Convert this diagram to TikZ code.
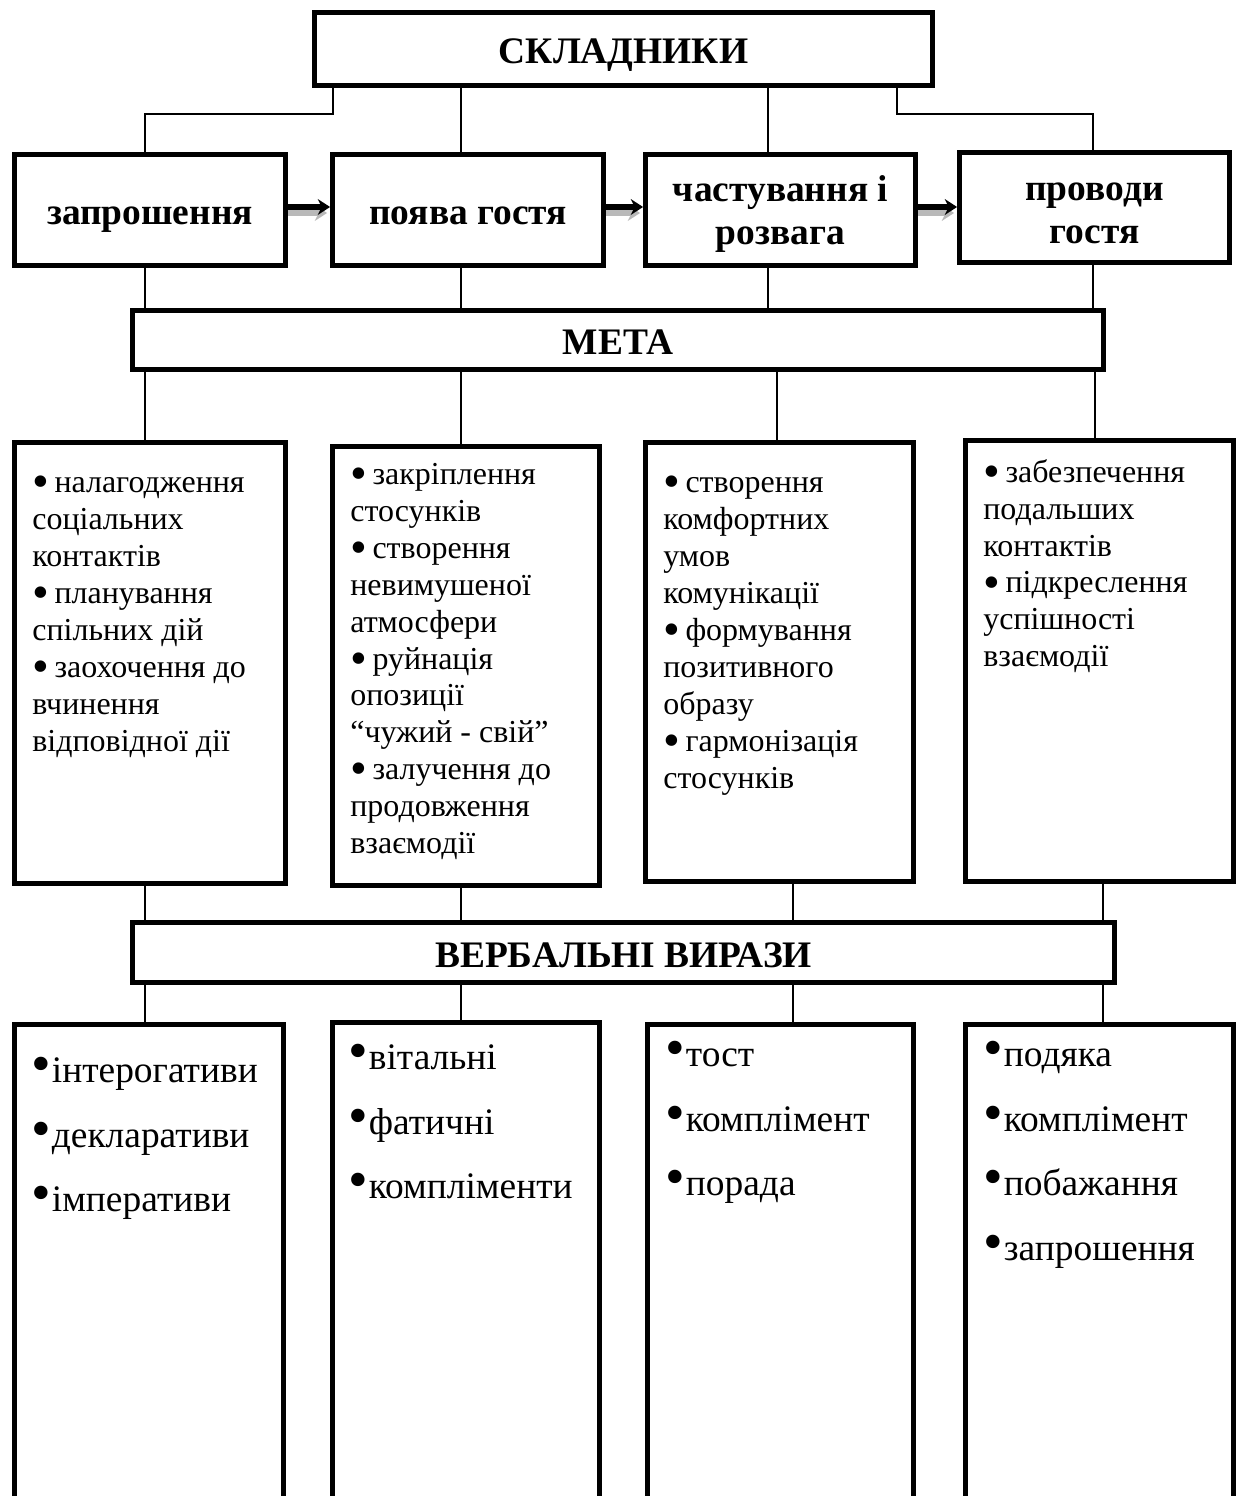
\documentclass[tikz,border=0pt]{standalone}
\usepackage{fontspec}
\setmainfont{Liberation Serif}
\usepackage{graphicx}
\usepackage{tikz}
\usetikzlibrary{positioning}
\usetikzlibrary{arrows.meta}

\newcommand{\aimbul}{\raisebox{-0.16em}{\scalebox{1.5}{•}}\kern-1.5pt}
\newcommand{\verbbul}{\scalebox{1.5}{•}\kern0.5pt}

\tikzset{
	stagebox/.style={rectangle, draw=black, line width=2.8pt, fill=white},
	link/.style={line width=0.9pt},
	flow/.style={line width=3pt, -{Stealth[length=7pt,width=9pt]}},
	flowshadow/.style={line width=3pt, draw=gray!55, -{Stealth[length=7pt,width=9pt]}},
	headtext/.style={font=\fontsize{21.3}{24.6}\selectfont\bfseries, align=center, text height=19.4pt, text depth=2.8pt},
	headtwo/.style={font=\fontsize{21.3}{24.6}\selectfont\bfseries, align=center},
	aimtext/.style={font=\fontsize{18.2}{21}\selectfont, align=left, anchor=north west, inner sep=0pt},
	verbtext/.style={font=\fontsize{21.3}{36.8}\selectfont, align=left, anchor=north west, inner sep=0pt}
}

\begin{document}
\begin{tikzpicture}[x=0.02cm, y=-0.02cm]

		\useasboundingbox (0,0) rectangle (1243,1496);
		\clip (0,0) rectangle (1243,1496);

		\node[stagebox, headtext, minimum width=12.36cm, minimum height=1.46cm](sklBox) at (623.5,49){СКЛАДНИКИ};

		\node[stagebox, headtext, minimum width=5.42cm, minimum height=2.22cm](invite) at (150,210){запрошення};
		\node[stagebox, headtext, minimum width=5.42cm, minimum height=2.22cm](arrival) at (468,210){поява гостя};
		\node[stagebox, headtwo, text depth=0pt, minimum width=5.4cm, minimum height=2.22cm](treat) at (780.5,210){частування і\\розвага};
		\node[stagebox, headtwo, text height=41.4pt, minimum width=5.4cm, minimum height=2.2cm](farewell) at (1094.5,207.5){проводи\\гостя};

		\node[stagebox, headtext, minimum width=19.42cm, minimum height=1.18cm](metaBox) at (618,340){МЕТА};

		\node[stagebox, minimum width=5.42cm, minimum height=8.82cm](goalOne) at (150,663){};
		\node[stagebox, minimum width=5.34cm, minimum height=8.78cm](goalTwo) at (466,666){};
		\node[stagebox, minimum width=5.36cm, minimum height=8.78cm](goalThree) at (779.5,662){};
		\node[stagebox, minimum width=5.36cm, minimum height=8.82cm](goalFour) at (1099.5,661){};

		\node[aimtext](goalOneText) at (32,476){\aimbul{} налагодження\\соціальних\\контактів\\\aimbul{} планування\\спільних дій\\\aimbul{} заохочення до\\вчинення\\відповідної дії};
		\node[aimtext](goalTwoText) at (350,463){\aimbul{} закріплення\\стосунків\\\aimbul{} створення\\невимушеної\\атмосфери\\\aimbul{} руйнація\\опозиції\\“чужий - свій”\\\aimbul{} залучення до\\продовження\\взаємодії};
		\node[aimtext](goalThreeText) at (663,476){\aimbul{} створення\\комфортних\\умов\\комунікації\\\aimbul{} формування\\позитивного\\образу\\\aimbul{} гармонізація\\стосунків};
		\node[aimtext](goalFourText) at (983,459){\aimbul{} забезпечення\\подальших\\контактів\\\aimbul{} підкреслення\\успішності\\взаємодії};

		\node[stagebox, headtext, minimum width=19.64cm, minimum height=1.2cm](verbBox) at (623.5,952.5){ВЕРБАЛЬНІ ВИРАЗИ};

		\node[stagebox, anchor=north, minimum width=5.38cm, minimum height=12cm](phraseOne) at (149,1022){};
		\node[stagebox, anchor=north, minimum width=5.34cm, minimum height=12cm](phraseTwo) at (466,1020){};
		\node[stagebox, anchor=north, minimum width=5.32cm, minimum height=12cm](phraseThree) at (780.5,1022){};
		\node[stagebox, anchor=north, minimum width=5.36cm, minimum height=12cm](phraseFour) at (1099.5,1022){};

		\node[verbtext](phraseOneText) at (31,1057){\verbbul інтерогативи\\\verbbul декларативи\\\verbbul імперативи};
		\node[verbtext](phraseTwoText) at (348,1044){\verbbul вітальні\\\verbbul фатичні\\\verbbul компліменти};
		\node[verbtext](phraseThreeText) at (665,1041){\verbbul тост\\\verbbul комплімент\\\verbbul порада};
		\node[verbtext](phraseFourText) at (983,1041){\verbbul подяка\\\verbbul комплімент\\\verbbul побажання\\\verbbul запрошення};

		\draw [link] ([xshift=0.42cm]sklBox.south west) -- ++(0,26) -| ([xshift=-0.1cm]invite.north);
		\draw [link] ([xshift=-0.14cm]arrival.north |- sklBox.south) -- ([xshift=-0.14cm]arrival.north);
		\draw [link] ([xshift=-0.25cm]treat.north |- sklBox.south) -- ([xshift=-0.25cm]treat.north);
		\draw [link] ([xshift=-0.76cm]sklBox.south east) -- ++(0,26) -| ([xshift=-0.03cm]farewell.north);

		\draw [flowshadow] ([yshift=-0.06cm]invite.east) -- ([xshift=-0.06cm,yshift=-0.06cm]arrival.west);
		\draw [flow] ([yshift=0.06cm]invite.east) -- ([yshift=0.06cm]arrival.west);
		\draw [flowshadow] ([yshift=-0.06cm]arrival.east) -- ([xshift=-0.06cm,yshift=-0.06cm]treat.west);
		\draw [flow] ([yshift=0.06cm]arrival.east) -- ([yshift=0.06cm]treat.west);
		\draw [flowshadow] ([yshift=-0.06cm]treat.east) -- ([xshift=-0.06cm,yshift=-0.06cm]treat.east -| farewell.west);
		\draw [flow] ([yshift=0.06cm]treat.east) -- ([yshift=0.06cm]treat.east -| farewell.west);

		\draw [link] ([xshift=-0.1cm]invite.south) -- ([xshift=-0.1cm]invite.south |- metaBox.north);
		\draw [link] ([xshift=-0.14cm]arrival.south) -- ([xshift=-0.14cm]arrival.south |- metaBox.north);
		\draw [link] ([xshift=-0.25cm]treat.south) -- ([xshift=-0.25cm]treat.south |- metaBox.north);
		\draw [link] ([xshift=-0.03cm]farewell.south) -- ([xshift=-0.03cm]farewell.south |- metaBox.north);

		\draw [link] ([xshift=-0.1cm]goalOne.north |- metaBox.south) -- ([xshift=-0.1cm]goalOne.north);
		\draw [link] ([xshift=-0.1cm]goalTwo.north |- metaBox.south) -- ([xshift=-0.1cm]goalTwo.north);
		\draw [link] ([xshift=-0.05cm]goalThree.north |- metaBox.south) -- ([xshift=-0.05cm]goalThree.north);
		\draw [link] ([xshift=-0.09cm]goalFour.north |- metaBox.south) -- ([xshift=-0.09cm]goalFour.north);

		\draw [link] ([xshift=-0.1cm]goalOne.south) -- ([xshift=-0.1cm]goalOne.south |- verbBox.north);
		\draw [link] ([xshift=-0.1cm]goalTwo.south) -- ([xshift=-0.1cm]goalTwo.south |- verbBox.north);
		\draw [link] ([xshift=0.27cm]goalThree.south) -- ([xshift=0.27cm]goalThree.south |- verbBox.north);
		\draw [link] ([xshift=0.07cm]goalFour.south) -- ([xshift=0.07cm]goalFour.south |- verbBox.north);

		\draw [link] ([xshift=-0.08cm]phraseOne.north |- verbBox.south) -- ([xshift=-0.08cm]phraseOne.north);
		\draw [link] ([xshift=-0.1cm]phraseTwo.north |- verbBox.south) -- ([xshift=-0.1cm]phraseTwo.north);
		\draw [link] ([xshift=0.25cm]phraseThree.north |- verbBox.south) -- ([xshift=0.25cm]phraseThree.north);
		\draw [link] ([xshift=0.07cm]phraseFour.north |- verbBox.south) -- ([xshift=0.07cm]phraseFour.north);

	\end{tikzpicture}
\end{document}
